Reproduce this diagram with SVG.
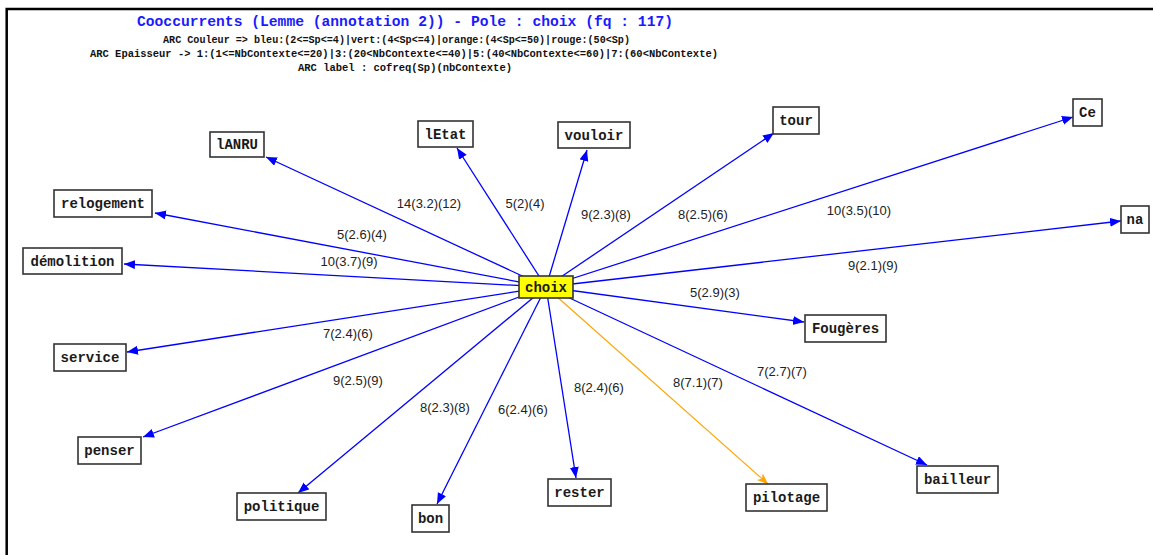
<svg xmlns="http://www.w3.org/2000/svg" width="1153" height="555" viewBox="0 0 1153 555">
<style>
.frame{stroke:#000;stroke-width:2.5;fill:none}
.title{font-family:"Liberation Mono","Courier New",monospace;font-weight:bold;font-size:14.6px;fill:#1a1aff}
.sub{font-family:"Liberation Mono","Courier New",monospace;font-weight:bold;font-size:10px;fill:#111}
.box{fill:#fff;stroke:#333;stroke-width:1.6}
.pole{fill:#ffff00;stroke:#333;stroke-width:1.6}
.lbl{font-family:"Liberation Mono","Courier New",monospace;font-weight:bold;font-size:14px;fill:#1a1a1a;text-anchor:middle}
.e{stroke:#0000ff;stroke-width:1.3;fill:none;marker-end:url(#ab)}
.eo{stroke:#ffa500;stroke-width:1.2;fill:none;marker-end:url(#ao)}
.el{font-family:"Liberation Sans",Arial,sans-serif;font-size:13px;fill:#222;text-anchor:middle}
</style>
<defs>
<marker id="ab" markerUnits="userSpaceOnUse" markerWidth="12" markerHeight="10" refX="11" refY="4.5" orient="auto"><path d="M0,0 L11,4.5 L0,9 Z" fill="#0000ff"/></marker>
<marker id="ao" markerUnits="userSpaceOnUse" markerWidth="12" markerHeight="10" refX="11" refY="4.5" orient="auto"><path d="M0,0 L11,4.5 L0,9 L3,4.5 Z" fill="#ffa500"/></marker>
</defs>
<rect width="1153" height="555" fill="#fff"/>
<path class="frame" d="M6.7,555 V9 H1153"/>
<text class="title" x="405" y="26" text-anchor="middle" textLength="536" lengthAdjust="spacingAndGlyphs">Cooccurrents (Lemme (annotation 2)) - Pole : choix (fq : 117)</text>
<text class="sub" x="163" y="43" textLength="467" lengthAdjust="spacingAndGlyphs">ARC Couleur =&gt; bleu:(2&lt;=Sp&lt;=4)|vert:(4&lt;Sp&lt;=4)|orange:(4&lt;Sp&lt;=50)|rouge:(50&lt;Sp)</text>
<text class="sub" x="90" y="57" textLength="628" lengthAdjust="spacingAndGlyphs">ARC Epaisseur -&gt; 1:(1&lt;=NbContexte&lt;=20)|3:(20&lt;NbContexte&lt;=40)|5:(40&lt;NbContexte&lt;=60)|7:(60&lt;NbContexte)</text>
<text class="sub" x="298" y="71" textLength="214" lengthAdjust="spacingAndGlyphs">ARC label : cofreq(Sp)(nbContexte)</text>
<g id="connectors">
<line class="e" x1="546" y1="287" x2="266" y2="157"/>
<line class="e" x1="546" y1="287" x2="155" y2="213"/>
<line class="e" x1="546" y1="287" x2="124" y2="264"/>
<line class="e" x1="546" y1="287" x2="457" y2="148"/>
<line class="e" x1="546" y1="287" x2="587" y2="150"/>
<line class="e" x1="546" y1="287" x2="774" y2="133"/>
<line class="e" x1="546" y1="287" x2="1073" y2="117"/>
<line class="e" x1="546" y1="287" x2="1121" y2="221"/>
<line class="e" x1="546" y1="287" x2="804" y2="322"/>
<line class="e" x1="546" y1="287" x2="127" y2="352"/>
<line class="e" x1="546" y1="287" x2="143" y2="437"/>
<line class="e" x1="546" y1="287" x2="298" y2="493"/>
<line class="e" x1="546" y1="287" x2="437" y2="504"/>
<line class="e" x1="546" y1="287" x2="576" y2="478"/>
<line class="eo" x1="546" y1="287" x2="768" y2="484"/>
<line class="e" x1="546" y1="287" x2="927" y2="465"/>
<text class="el" x="429" y="208">14(3.2)(12)</text>
<text class="el" x="525" y="208">5(2)(4)</text>
<text class="el" x="606" y="219">9(2.3)(8)</text>
<text class="el" x="703" y="219">8(2.5)(6)</text>
<text class="el" x="859" y="215">10(3.5)(10)</text>
<text class="el" x="873" y="270">9(2.1)(9)</text>
<text class="el" x="362" y="239">5(2.6)(4)</text>
<text class="el" x="349" y="266">10(3.7)(9)</text>
<text class="el" x="715" y="297">5(2.9)(3)</text>
<text class="el" x="348" y="338">7(2.4)(6)</text>
<text class="el" x="358" y="385">9(2.5)(9)</text>
<text class="el" x="445" y="412">8(2.3)(8)</text>
<text class="el" x="523" y="414">6(2.4)(6)</text>
<text class="el" x="599" y="392">8(2.4)(6)</text>
<text class="el" x="698" y="387">8(7.1)(7)</text>
<text class="el" x="782" y="376">7(2.7)(7)</text>
</g>
<g id="n-choix"><rect class="pole" x="519" y="276" width="54" height="22"/><text class="lbl" x="546" y="292">choix</text></g>
<g id="n-lANRU"><rect class="box" x="210" y="132" width="54" height="25"/><text class="lbl" x="237" y="149">lANRU</text></g>
<g id="n-relogement"><rect class="box" x="54" y="190" width="98" height="27"/><text class="lbl" x="103" y="208">relogement</text></g>
<g id="n-demolition"><rect class="box" x="23" y="248" width="99" height="26"/><text class="lbl" x="72.5" y="265.5">démolition</text></g>
<g id="n-lEtat"><rect class="box" x="418" y="121" width="55" height="26"/><text class="lbl" x="445.5" y="138.5">lEtat</text></g>
<g id="n-vouloir"><rect class="box" x="558" y="122" width="72" height="26"/><text class="lbl" x="594" y="139.5">vouloir</text></g>
<g id="n-tour"><rect class="box" x="773" y="107" width="46" height="27"/><text class="lbl" x="796" y="125">tour</text></g>
<g id="n-Ce"><rect class="box" x="1073" y="99" width="29" height="27"/><text class="lbl" x="1087.5" y="117">Ce</text></g>
<g id="n-na"><rect class="box" x="1121" y="206" width="28" height="27"/><text class="lbl" x="1135" y="224">na</text></g>
<g id="n-Fougeres"><rect class="box" x="805" y="315" width="81" height="27"/><text class="lbl" x="845.5" y="333">Fougères</text></g>
<g id="n-service"><rect class="box" x="54" y="344" width="72" height="27"/><text class="lbl" x="90" y="362">service</text></g>
<g id="n-penser"><rect class="box" x="78" y="437" width="63" height="27"/><text class="lbl" x="109.5" y="455">penser</text></g>
<g id="n-politique"><rect class="box" x="237" y="493" width="89" height="27"/><text class="lbl" x="281.5" y="511">politique</text></g>
<g id="n-bon"><rect class="box" x="412" y="505" width="37" height="27"/><text class="lbl" x="430.5" y="523">bon</text></g>
<g id="n-rester"><rect class="box" x="548" y="479" width="63" height="27"/><text class="lbl" x="579.5" y="497">rester</text></g>
<g id="n-pilotage"><rect class="box" x="746" y="484" width="81" height="27"/><text class="lbl" x="786.5" y="502">pilotage</text></g>
<g id="n-bailleur"><rect class="box" x="917" y="466" width="81" height="27"/><text class="lbl" x="957.5" y="484">bailleur</text></g>
</svg>
